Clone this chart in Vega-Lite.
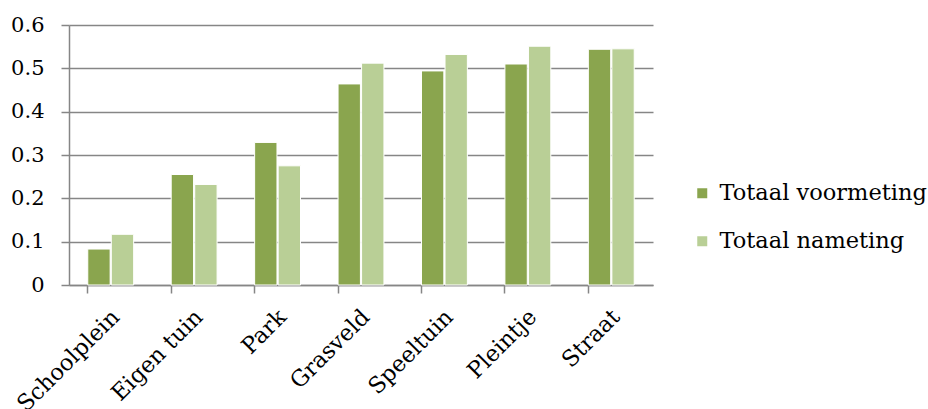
{
  "$schema": "https://vega.github.io/schema/vega-lite/v6.json",
  "width": 584,
  "height": 260,
  "autosize": {"type": "none"},
  "padding": {"left": 69, "top": 25, "right": 275, "bottom": 124},
  "background": "white",
  "config": {
    "view": {"stroke": null},
    "font": "DejaVu Serif"
  },
  "data": {
    "values": [
      {"plek": "Schoolplein", "meting": "Totaal voormeting", "waarde": 0.083},
      {"plek": "Schoolplein", "meting": "Totaal nameting", "waarde": 0.117},
      {"plek": "Eigen tuin", "meting": "Totaal voormeting", "waarde": 0.255},
      {"plek": "Eigen tuin", "meting": "Totaal nameting", "waarde": 0.232},
      {"plek": "Park", "meting": "Totaal voormeting", "waarde": 0.329},
      {"plek": "Park", "meting": "Totaal nameting", "waarde": 0.275},
      {"plek": "Grasveld", "meting": "Totaal voormeting", "waarde": 0.464},
      {"plek": "Grasveld", "meting": "Totaal nameting", "waarde": 0.512},
      {"plek": "Speeltuin", "meting": "Totaal voormeting", "waarde": 0.494},
      {"plek": "Speeltuin", "meting": "Totaal nameting", "waarde": 0.532},
      {"plek": "Pleintje", "meting": "Totaal voormeting", "waarde": 0.510},
      {"plek": "Pleintje", "meting": "Totaal nameting", "waarde": 0.551},
      {"plek": "Straat", "meting": "Totaal voormeting", "waarde": 0.544},
      {"plek": "Straat", "meting": "Totaal nameting", "waarde": 0.545}
    ]
  },
  "mark": {"type": "bar", "stroke": "white", "strokeWidth": 1},
  "encoding": {
    "x": {
      "field": "plek",
      "type": "nominal",
      "sort": null,
      "scale": {"paddingInner": 0.45, "paddingOuter": 0.225},
      "axis": {
        "title": null,
        "labelAngle": -45,
        "labelAlign": "right",
        "labelBaseline": "middle",
        "labelFontSize": 22.5,
        "labelColor": "#000000",
        "labelPadding": 20,
        "labelOffset": 5,
        "labelLimit": 300,
        "bandPosition": 0,
        "tickColor": "#868686",
        "tickWidth": 1.5,
        "tickSize": 8,
        "domainColor": "#868686",
        "domainWidth": 1.5,
        "grid": false
      }
    },
    "xOffset": {
      "field": "meting",
      "type": "nominal",
      "sort": ["Totaal voormeting", "Totaal nameting"],
      "scale": {"paddingInner": 0.05}
    },
    "y": {
      "field": "waarde",
      "type": "quantitative",
      "scale": {"domain": [0, 0.6], "nice": false},
      "axis": {
        "title": null,
        "values": [0, 0.1, 0.2, 0.3, 0.4, 0.5, 0.6],
        "format": "~g",
        "labelFontSize": 21,
        "labelColor": "#000000",
        "labelPadding": 17,
        "tickColor": "#868686",
        "tickWidth": 1.5,
        "tickSize": 8,
        "domainColor": "#868686",
        "domainWidth": 1.5,
        "gridColor": "#868686",
        "gridWidth": 1.5
      }
    },
    "color": {
      "field": "meting",
      "type": "nominal",
      "sort": ["Totaal voormeting", "Totaal nameting"],
      "scale": {"domain": ["Totaal voormeting", "Totaal nameting"], "range": ["#8aa54e", "#b9cf96"]},
      "legend": {
        "title": null,
        "orient": "none",
        "legendX": 622,
        "legendY": 157,
        "symbolType": "square",
        "symbolSize": 100,
        "symbolStrokeWidth": 0,
        "labelFontSize": 22.5,
        "labelLimit": 300,
        "labelColor": "#000000",
        "rowPadding": 25,
        "labelOffset": 6
      }
    }
  }
}
